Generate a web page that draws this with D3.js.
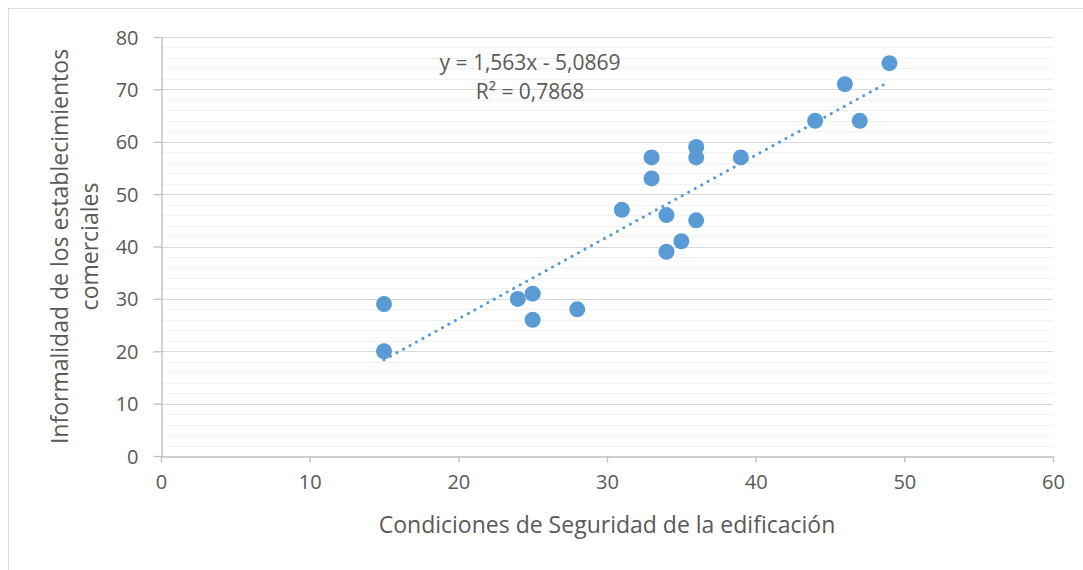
<!DOCTYPE html>
<html>
<head>
<meta charset="utf-8">
<script src="https://cdn.jsdelivr.net/npm/d3@7"></script>
<style>
  body { margin: 0; background: #fff; }
  text { font-family: "Open Sans", "Noto Sans", sans-serif; fill: #595959; }
</style>
</head>
<body>
<div id="chart"></div>
<script>
// values
const seguridad =    [15, 15, 24, 25, 25, 28, 31, 33, 33, 34, 34, 35, 36, 36, 36, 39, 44, 46, 47, 49]
const informalidad = [29, 20, 30, 31, 26, 28, 47, 57, 53, 46, 39, 41, 59, 57, 45, 57, 64, 71, 64, 75]
const xTicks = [0, 10, 20, 30, 40, 50, 60]
const yTicks = [0, 10, 20, 30, 40, 50, 60, 70, 80]
const slope = 1.563, intercept = -5.0869
const eqLabel = 'y = 1,563x - 5,0869'
const r2Label = 'R² = 0,7868'

const width = 1083, height = 570
const margin = {top: 37, bottom: 114, left: 161, right: 30}

const svg = d3.select('#chart')
  .append('svg')
  .attr('width', width)
  .attr('height', height)

// outer chart border (only top/left visible in the crop)
svg.append('rect')
  .attr('x', 8.5).attr('y', 8.5)
  .attr('width', width).attr('height', height)
  .attr('fill', 'none')
  .attr('stroke', '#d9d9d9')

const x = d3.scaleLinear().domain([0, 60]).range([margin.left, width - margin.right])
const y = d3.scaleLinear().domain([0, 80]).range([height - margin.bottom, margin.top])

// minor grid every 2
const minor = d3.range(2, 80, 2).filter(v => v % 10 !== 0)
svg.append('g')
  .selectAll('line')
  .data(minor)
  .join('line')
  .attr('x1', x(0)).attr('x2', x(60))
  .attr('y1', d => Math.round(y(d)) + 0.5)
  .attr('y2', d => Math.round(y(d)) + 0.5)
  .attr('stroke', '#f2f2f2')

svg.append('g')
  .selectAll('line')
  .data(yTicks.filter(d => d > 0))
  .join('line')
  .attr('x1', x(0)).attr('x2', x(60))
  .attr('y1', d => Math.round(y(d)) + 0.5)
  .attr('y2', d => Math.round(y(d)) + 0.5)
  .attr('stroke', '#d9d9d9')

// axes
const xAxis = svg.append('g')
  .attr('transform', `translate(0,${Math.round(y(0)) + 0.5})`)
  .call(d3.axisBottom(x).tickValues(xTicks).tickSize(6).tickSizeOuter(0).tickPadding(12))

const yAxis = svg.append('g')
  .attr('transform', `translate(${Math.round(x(0)) + 0.5},0)`)
  .call(d3.axisLeft(y).tickValues(yTicks).tickSize(8).tickSizeOuter(0).tickPadding(15))

for (const ax of [xAxis, yAxis]) {
  ax.select('.domain').attr('stroke', '#bfbfbf').attr('stroke-width', 1.3)
  ax.selectAll('.tick line').attr('stroke', '#bfbfbf').attr('stroke-width', 1.3)
  ax.selectAll('.tick text').style('font-size', '20px').attr('fill', '#595959')
}
yAxis.selectAll('.tick text').attr('dy', '0.35em')

// trend line
const xMin = d3.min(seguridad), xMax = d3.max(seguridad)
svg.append('line')
  .attr('x1', x(xMin)).attr('y1', y(slope * xMin + intercept))
  .attr('x2', x(xMax)).attr('y2', y(slope * xMax + intercept))
  .attr('stroke', '#5b9bd5')
  .attr('stroke-width', 3)
  .attr('stroke-linecap', 'round')
  .attr('stroke-dasharray', '0.1 7.3')

// points
svg.append('g')
  .selectAll('circle')
  .data(seguridad.map((v, i) => [v, informalidad[i]]))
  .join('circle')
  .attr('cx', d => x(d[0]))
  .attr('cy', d => y(d[1]))
  .attr('r', 8)
  .attr('fill', '#5b9bd5')

// equation labels
svg.append('text')
  .attr('x', 530).attr('y', 70)
  .attr('text-anchor', 'middle')
  .style('font-size', '21px')
  .text(eqLabel)

svg.append('text')
  .attr('x', 530).attr('y', 99)
  .attr('text-anchor', 'middle')
  .style('font-size', '21px')
  .text(r2Label)

// axis titles
svg.append('text')
  .attr('x', (x(0) + x(60)) / 2).attr('y', 533)
  .attr('text-anchor', 'middle')
  .style('font-size', '23px')
  .text('Condiciones de Seguridad de la edificación')

const yTitle = svg.append('text')
  .attr('transform', `translate(0,${(y(0) + y(80)) / 2}) rotate(-90)`)
  .attr('text-anchor', 'middle')
  .style('font-size', '23px')
yTitle.append('tspan').attr('x', 0).attr('y', 68).text('Informalidad de los establecimientos')
yTitle.append('tspan').attr('x', 0).attr('y', 98).text('comerciales')
</script>
</body>
</html>
